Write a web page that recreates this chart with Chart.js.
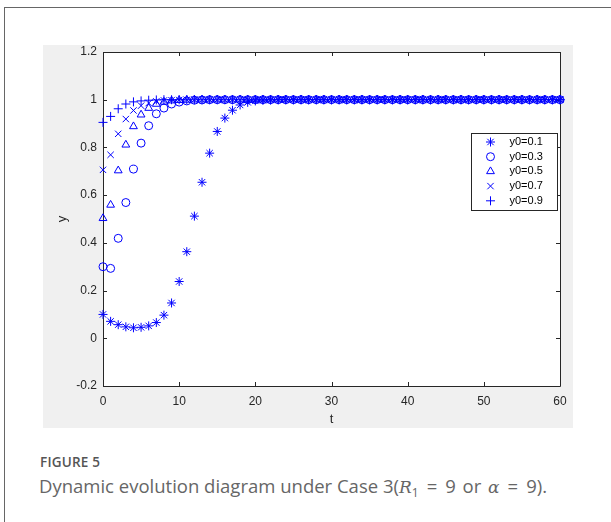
<!DOCTYPE html>
<html>
<head>
<meta charset="utf-8">
<title>Figure 5</title>
<script src="https://cdn.jsdelivr.net/npm/chart.js@4.4.1/dist/chart.umd.min.js"></script>
<style>
  html, body { margin: 0; padding: 0; background: #fff; }
  body { width: 611px; height: 522px; position: relative; overflow: hidden; font-family: "Open Sans", "Noto Sans", sans-serif; }
  .card { position: absolute; left: 4px; top: 7px; right: -10px; bottom: -10px; border-left: 1px solid #666; border-top: 1px solid #666; }
  .fig { position: absolute; left: 43px; top: 45px; width: 530px; height: 383px; background: #f0f0f0; }
  .cap-title { position: absolute; left: 40px; top: 453px; font-size: 13.5px; font-weight: 600; color: #555; letter-spacing: 0.2px; }
  .cap-text { position: absolute; left: 39px; top: 473px; font-size: 18.5px; color: #666; white-space: nowrap; }
  .cap-text i { font-family: "DejaVu Serif", serif; font-size: 17px; }
  .cap-text sub { font-size: 12px; vertical-align: -4px; line-height: 0; }
  .cap-text .eq { padding: 0 8px; }
  .cap-text .or { padding: 0 2px; }
</style>
</head>
<body>
<div class="card"></div>
<div class="fig"><canvas id="myChart" width="530" height="383"></canvas></div>
<div class="cap-title">FIGURE 5</div>
<div class="cap-text">Dynamic evolution diagram under Case 3(<i>R</i><sub>1</sub><span class="eq">=</span>9<span class="or"> or </span><i>α</i><span class="eq">=</span>9).</div>

<script>
// time steps 0..60
var tValues = [0,1,2,3,4,5,6,7,8,9,10,11,12,13,14,15,16,17,18,19,20,
  21,22,23,24,25,26,27,28,29,30,31,32,33,34,35,36,37,38,39,40,
  41,42,43,44,45,46,47,48,49,50,51,52,53,54,55,56,57,58,59,60];

// y for each initial value
var y01 = [0.100,0.071,0.057,0.048,0.044,0.046,0.052,0.066,0.097,0.148,0.238,
  0.363,0.512,0.654,0.776,0.867,0.923,0.956,0.978,0.989,0.995,
  0.998,0.999,1,1,1,1,1,1,1,1,1,1,1,1,1,1,1,1,1,1,
  1,1,1,1,1,1,1,1,1,1,1,1,1,1,1,1,1,1,1,1];
var y03 = [0.300,0.293,0.419,0.569,0.709,0.818,0.891,0.941,0.965,0.982,0.990,
  0.995,0.998,0.999,1,1,1,1,1,1,1,1,1,1,1,1,1,1,1,1,1,
  1,1,1,1,1,1,1,1,1,1,1,1,1,1,1,1,1,1,1,1,1,1,1,1,1,1,1,1,1,1];
var y05 = [0.503,0.559,0.703,0.811,0.888,0.937,0.965,0.982,0.991,0.996,0.998,
  0.999,1,1,1,1,1,1,1,1,1,1,1,1,1,1,1,1,1,1,1,
  1,1,1,1,1,1,1,1,1,1,1,1,1,1,1,1,1,1,1,1,1,1,1,1,1,1,1,1,1,1];
var y07 = [0.706,0.769,0.857,0.919,0.955,0.975,0.986,0.993,0.997,0.998,0.999,
  1,1,1,1,1,1,1,1,1,1,1,1,1,1,1,1,1,1,1,1,
  1,1,1,1,1,1,1,1,1,1,1,1,1,1,1,1,1,1,1,1,1,1,1,1,1,1,1,1,1,1];
var y09 = [0.905,0.930,0.962,0.982,0.991,0.995,0.998,0.999,1,1,1,
  1,1,1,1,1,1,1,1,1,1,1,1,1,1,1,1,1,1,1,1,
  1,1,1,1,1,1,1,1,1,1,1,1,1,1,1,1,1,1,1,1,1,1,1,1,1,1,1,1,1,1];

var seriesLabels = ['y0=0.1', 'y0=0.3', 'y0=0.5', 'y0=0.7', 'y0=0.9'];
var xTickStep = 10;
var yTickStep = 0.2;

var blue = 'rgb(0,0,255)';
var axisColor = '#262626';
var tickFont = { family: 'Liberation Sans, Arial, sans-serif', size: 12 };

function pts(ys) {
  return tValues.map(function (t, i) { return { x: t, y: ys[i] }; });
}

function mkSet(label, ys, style, r) {
  return {
    label: label,
    data: pts(ys),
    showLine: false,
    pointStyle: style,
    pointRadius: r,
    pointHoverRadius: r,
    pointBorderWidth: 1,
    borderColor: blue,
    pointBorderColor: blue,
    backgroundColor: 'rgba(0,0,0,0)',
    pointBackgroundColor: 'rgba(0,0,0,0)',
    clip: false
  };
}

/* box with inward ticks, like matlab */
var matlabBox = {
  id: 'matlabBox',
  beforeDatasetsDraw: function (chart) {
    var ctx = chart.ctx, a = chart.chartArea;
    var xs = chart.scales.x, ys = chart.scales.y;
    var tl = 4;
    ctx.save();
    ctx.fillStyle = '#fff';
    ctx.fillRect(a.left, a.top, a.right - a.left, a.bottom - a.top);
    ctx.strokeStyle = axisColor;
    ctx.lineWidth = 1;
    ctx.beginPath();
    ctx.rect(Math.round(a.left) + 0.5, Math.round(a.top) + 0.5,
      Math.round(a.right - a.left), Math.round(a.bottom - a.top));
    xs.ticks.forEach(function (tk) {
      var px = Math.round(xs.getPixelForValue(tk.value)) + 0.5;
      ctx.moveTo(px, a.bottom); ctx.lineTo(px, a.bottom - tl);
      ctx.moveTo(px, a.top); ctx.lineTo(px, a.top + tl);
    });
    ys.ticks.forEach(function (tk) {
      var py = Math.round(ys.getPixelForValue(tk.value)) + 0.5;
      ctx.moveTo(a.left, py); ctx.lineTo(a.left + tl, py);
      ctx.moveTo(a.right, py); ctx.lineTo(a.right - tl, py);
    });
    ctx.stroke();
    ctx.restore();
  }
};

/* legend inside the axes, top right */
var legendBox = {
  id: 'legendBox',
  afterDraw: function (chart) {
    var ctx = chart.ctx, a = chart.chartArea;
    var w = 86, h = 77;
    var x0 = Math.round(a.right - 3 - w) + 0.5, y0 = Math.round(a.top + 81) + 0.5;
    ctx.save();
    ctx.fillStyle = '#fff';
    ctx.fillRect(x0, y0, w, h);
    ctx.strokeStyle = axisColor;
    ctx.lineWidth = 1;
    ctx.strokeRect(x0, y0, w, h);
    ctx.font = '11px "Liberation Sans", Arial, sans-serif';
    ctx.textBaseline = 'middle';
    chart.data.datasets.forEach(function (ds, i) {
      var cy = y0 + 8.5 + i * 14.7;
      ctx.strokeStyle = blue;
      ctx.fillStyle = 'rgba(0,0,0,0)';
      Chart.helpers.drawPoint(ctx, {
        pointStyle: ds.pointStyle, radius: ds.pointRadius, rotation: 0, borderWidth: 1
      }, x0 + 19, cy);
      ctx.fillStyle = '#000';
      ctx.fillText(ds.label, x0 + 38, cy);
    });
    ctx.restore();
  }
};

function noPad(s) {
  s.paddingTop = 0; s.paddingBottom = 0; s.paddingLeft = 0; s.paddingRight = 0;
}

var ctx = document.getElementById('myChart').getContext('2d');
var chart = new Chart(ctx, {
  type: 'scatter',
  data: {
    datasets: [
      mkSet(seriesLabels[0], y01, 'star', 4.5),
      mkSet(seriesLabels[1], y03, 'circle', 4),
      mkSet(seriesLabels[2], y05, 'triangle', 4.5),
      mkSet(seriesLabels[3], y07, 'crossRot', 4.5),
      mkSet(seriesLabels[4], y09, 'cross', 4.5)
    ]
  },
  options: {
    responsive: false,
    devicePixelRatio: 1,
    animation: false,
    events: [],
    layout: { padding: { top: 7, right: 13, left: 0, bottom: 0 } },
    plugins: {
      legend: { display: false },
      tooltip: { enabled: false }
    },
    scales: {
      x: {
        type: 'linear',
        min: 0, max: 60,
        afterFit: function (s) { s.height = 42; noPad(s); },
        grid: { display: false, drawTicks: false },
        border: { display: false },
        ticks: { stepSize: xTickStep, color: axisColor, font: tickFont, padding: 8, maxRotation: 0 },
        title: { display: true, text: 't', color: axisColor, font: { family: 'Liberation Sans, Arial, sans-serif', size: 13 }, padding: { top: 0, bottom: 1 } }
      },
      y: {
        min: -0.2, max: 1.2,
        afterFit: function (s) { s.width = 60; noPad(s); },
        grid: { display: false, drawTicks: false },
        border: { display: false },
        ticks: {
          stepSize: yTickStep, color: axisColor, font: tickFont, padding: 6,
          callback: function (v) { return String(Math.round(v * 10) / 10); }
        },
        title: { display: true, text: 'y', color: axisColor, font: { family: 'Liberation Sans, Arial, sans-serif', size: 13 }, padding: { top: 12, bottom: 0 } }
      }
    }
  },
  plugins: [matlabBox, legendBox]
});
</script>
</body>
</html>
